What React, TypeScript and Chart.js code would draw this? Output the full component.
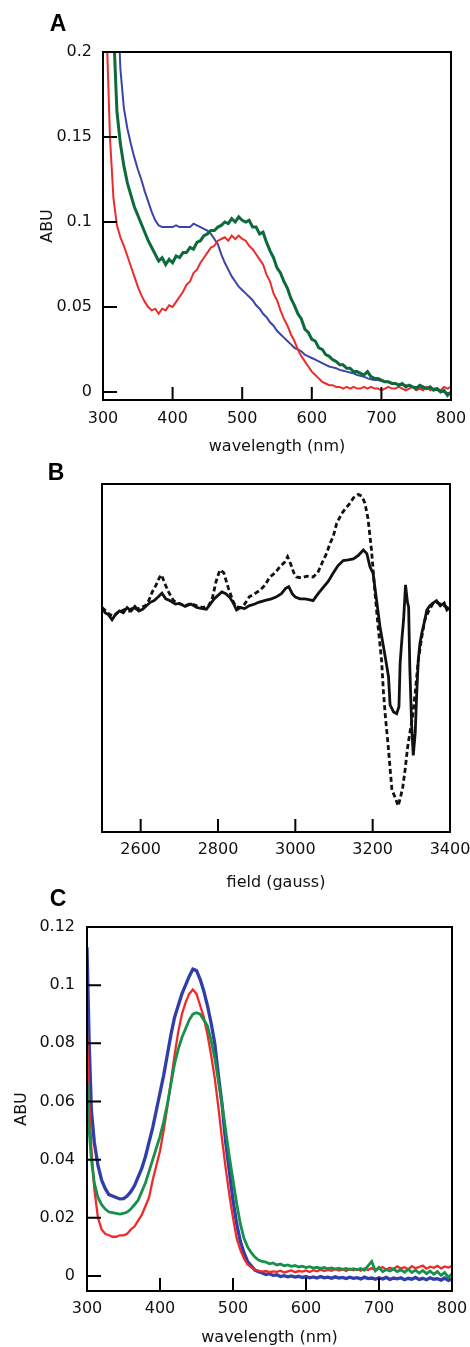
import React, { useEffect, useRef } from "react";
import { Chart, registerables } from "chart.js";

Chart.register(...registerables);

// ---------------- Panel A data ----------------
const WL_A = [
  300, 305, 310, 315, 320, 325, 330, 335, 340, 345,
  350, 355, 360, 365, 370, 375, 380, 385, 390, 395,
  400, 405, 410, 415, 420, 425, 430, 435, 440, 445,
  450, 455, 460, 465, 470, 475, 480, 485, 490, 495,
  500, 505, 510, 515, 520, 525, 530, 535, 540, 545,
  550, 555, 560, 565, 570, 575, 580, 585, 590, 595,
  600, 605, 610, 615, 620, 625, 630, 635, 640, 645,
  650, 655, 660, 665, 670, 675, 680, 685, 690, 695,
  700, 705, 710, 715, 720, 725, 730, 735, 740, 745,
  750, 755, 760, 765, 770, 775, 780, 785, 790, 795,
  800,
];
const RED_A = [
  0.300, 0.215, 0.150, 0.114, 0.098, 0.091, 0.086, 0.080, 0.074, 0.068,
  0.062, 0.057, 0.053, 0.050, 0.048, 0.049, 0.046, 0.049, 0.048, 0.051,
  0.050, 0.053, 0.056, 0.059, 0.063, 0.065, 0.070, 0.072, 0.076, 0.079,
  0.082, 0.085, 0.086, 0.089, 0.090, 0.091, 0.089, 0.092, 0.090, 0.092,
  0.090, 0.089, 0.086, 0.084, 0.081, 0.078, 0.075, 0.069, 0.065, 0.058,
  0.054, 0.048, 0.043, 0.039, 0.034, 0.030, 0.025, 0.021, 0.018, 0.015,
  0.012, 0.010, 0.008, 0.006, 0.005, 0.004, 0.004, 0.003, 0.003, 0.002,
  0.003, 0.002, 0.003, 0.002, 0.002, 0.003, 0.002, 0.003, 0.002, 0.002,
  0.001, 0.002, 0.003, 0.002, 0.002, 0.003, 0.002, 0.001, 0.002, 0.003,
  0.001, 0.002, 0.001, 0.003, 0.001, 0.002, 0.002, 0.001, 0.003, 0.002,
  0.003,
];
const BLUE_A = [
  0.400, 0.360, 0.320, 0.280, 0.240, 0.190, 0.167, 0.155, 0.146, 0.138,
  0.131, 0.125, 0.118, 0.112, 0.106, 0.101, 0.098, 0.097, 0.097, 0.097,
  0.097, 0.098, 0.097, 0.097, 0.097, 0.097, 0.099, 0.098, 0.097, 0.096,
  0.095, 0.093, 0.090, 0.087, 0.081, 0.076, 0.072, 0.068, 0.065, 0.062,
  0.060, 0.058, 0.056, 0.054, 0.051, 0.049, 0.046, 0.044, 0.041, 0.039,
  0.036, 0.034, 0.032, 0.030, 0.028, 0.026, 0.025, 0.024, 0.022, 0.021,
  0.020, 0.019, 0.018, 0.017, 0.016, 0.015, 0.0145, 0.014, 0.013, 0.0125,
  0.012, 0.0115, 0.011, 0.010, 0.0095, 0.009, 0.008, 0.0075, 0.007, 0.007,
  0.0065, 0.006, 0.006, 0.0055, 0.005, 0.0045, 0.004, 0.004, 0.0035, 0.003,
  0.003, 0.0025, 0.002, 0.002, 0.002, 0.0015, 0.001, 0.001, 0.000, -0.0005,
  -0.001,
];
const GREEN_A = [
  0.400, 0.330, 0.270, 0.215, 0.165, 0.146, 0.133, 0.123, 0.116, 0.109,
  0.104, 0.099, 0.094, 0.089, 0.085, 0.081, 0.077, 0.079, 0.075, 0.078,
  0.076, 0.080, 0.079, 0.082, 0.082, 0.085, 0.084, 0.088, 0.089, 0.092,
  0.093, 0.095, 0.095, 0.097, 0.098, 0.100, 0.099, 0.102, 0.100, 0.103,
  0.101, 0.100, 0.101, 0.097, 0.097, 0.093, 0.094, 0.088, 0.083, 0.079,
  0.073, 0.070, 0.065, 0.061, 0.055, 0.051, 0.046, 0.043, 0.037, 0.035,
  0.031, 0.030, 0.026, 0.025, 0.022, 0.021, 0.019, 0.018, 0.016, 0.016,
  0.014, 0.014, 0.012, 0.012, 0.011, 0.010, 0.012, 0.009, 0.008, 0.008,
  0.007, 0.006, 0.006, 0.005, 0.005, 0.004, 0.005, 0.003, 0.004, 0.003,
  0.002, 0.004, 0.003, 0.002, 0.003, 0.001, 0.002, 0.000, 0.001, -0.002,
  0.000,
];
const X_LABELS_A = [300, 400, 500, 600, 700, 800];
const Y_LABELS_A = [0, 0.05, 0.1, 0.15, 0.2];
const X_MARKS_A = [400, 500, 600, 700];
const Y_MARKS_A = [0, 0.05, 0.1, 0.15];

// ---------------- Panel B data ----------------
const FIELD_SOLID = [
  2500, 2508, 2516, 2526, 2535, 2545, 2555, 2565, 2575, 2585,
  2595, 2605, 2615, 2625, 2635, 2645, 2655, 2665, 2675, 2690,
  2700, 2715, 2730, 2745, 2760, 2770, 2780, 2790, 2800, 2810,
  2820, 2830, 2840, 2848, 2858, 2869, 2880, 2895, 2905, 2920,
  2938, 2950, 2964, 2975, 2983, 2992, 3000, 3012, 3024, 3035,
  3046, 3059, 3070, 3085, 3098, 3110, 3124, 3137, 3150, 3163,
  3176, 3185, 3193, 3201, 3210, 3219, 3228, 3236, 3241, 3245,
  3254, 3262, 3268, 3271, 3276, 3280, 3285, 3290, 3293, 3296,
  3301, 3305, 3310, 3314, 3318, 3322, 3327, 3335, 3340, 3348,
  3356, 3365, 3375, 3385, 3392, 3400,
];
const SOLID = [
  64.5, 63, 62.5, 61, 62.5, 63.5, 63, 64.5, 63.5, 64.8,
  63.5, 64, 65, 66, 66.5, 67.5, 68.6, 67, 66.5, 65.5,
  65.7, 64.8, 65.5, 64.5, 64.2, 64, 65.5, 67, 68, 69,
  68.5, 67.5, 65.7, 63.8, 64.5, 64.2, 65, 65.5, 66, 66.5,
  67, 67.5, 68.5, 70, 70.5, 68.5, 67.5, 67, 67, 66.8,
  66.5, 68.5, 70, 72, 74.4, 76.5, 78, 78.2, 78.5, 79.5,
  81, 80, 76.2, 74.4, 66.7, 59, 53.2, 48, 44.6, 36.5,
  34.5, 34, 36, 48.5, 56, 61, 71, 66, 64.7, 47.5,
  30.2, 22, 28.4, 40, 49.4, 54, 57.1, 61, 63.8, 65,
  65.8, 66.5, 65, 65.8, 63.8, 64.5,
];
const FIELD_DASHED = [
  2500, 2510, 2520, 2530, 2540, 2550, 2560, 2570, 2580, 2590,
  2600, 2612, 2621, 2630, 2640, 2648, 2654, 2662, 2672, 2685,
  2698, 2715, 2730, 2745, 2760, 2775, 2784, 2795, 2805, 2815,
  2827, 2840, 2848, 2860, 2869, 2881, 2895, 2909, 2922, 2934,
  2948, 2960, 2972, 2980, 2988, 2996, 3003, 3015, 3030, 3046,
  3058, 3070, 3081, 3090, 3098, 3107, 3120, 3130, 3141, 3150,
  3163, 3172, 3180, 3188, 3197, 3205, 3214, 3223, 3228, 3233,
  3240, 3246, 3250, 3258, 3266, 3272, 3278, 3284, 3290, 3296,
  3303, 3310, 3318, 3327, 3335, 3345, 3355, 3365, 3375, 3385,
  3400,
];
const DASHED = [
  64.5, 63.5, 62.5, 62, 63, 63.5, 64, 63.5, 64.5, 64,
  64.5, 65, 66.5, 69, 71, 73, 73.9, 71.5, 69, 66.5,
  65.7, 65, 65.7, 65, 64.5, 65, 66.5, 72, 75.3, 74.5,
  70, 66, 64.7, 64.5, 65.5, 67.6, 68.5, 69.5, 71, 73.3,
  74.5, 76.2, 77.5, 79.1, 77, 74.5, 73.3, 73, 73.5, 73.3,
  74.5, 77.5, 80.1, 83, 84.9, 88.7, 91.5, 93, 94.4, 96,
  97, 96.5, 94.5, 90, 81, 70, 59, 49.4, 40, 33,
  25, 17, 12, 10, 7.5, 10, 13, 18, 24, 28.4,
  33, 40, 49.4, 56, 61, 63.5, 65.5, 66, 65.5, 65,
  64,
];
const X_LABELS_B = [2600, 2800, 3000, 3200, 3400];
const X_MARKS_B = [2600, 2800, 3000, 3200];

// ---------------- Panel C data ----------------
const WL_C = [
  300, 303, 306,
  310, 315, 320, 325, 330, 335, 340, 345, 350, 355,
  360, 365, 370, 375, 380, 385, 390, 395, 400, 405,
  410, 415, 420, 425, 430, 435, 440, 445, 450, 455,
  460, 465, 470, 475, 480, 485, 490, 495, 500, 505,
  510, 515, 520, 525, 530, 535, 540, 545, 550, 555,
  560, 565, 570, 575, 580, 585, 590, 595, 600, 605,
  610, 615, 620, 625, 630, 635, 640, 645, 650, 655,
  660, 665, 670, 675, 680, 685, 690, 695, 700, 705,
  710, 715, 720, 725, 730, 735, 740, 745, 750, 755,
  760, 765, 770, 775, 780, 785, 790, 795, 800,
];
const BLUE_C = [
  0.113, 0.080, 0.057,
  0.046, 0.038, 0.033, 0.030, 0.028, 0.0275, 0.027, 0.0265, 0.0266, 0.0275,
  0.029, 0.031, 0.034, 0.037, 0.041, 0.046, 0.051, 0.057, 0.063, 0.069,
  0.076, 0.083, 0.089, 0.093, 0.097, 0.100, 0.103, 0.1055, 0.105, 0.102,
  0.098, 0.093, 0.087, 0.080, 0.069, 0.059, 0.046, 0.036, 0.026, 0.018,
  0.012, 0.008, 0.005, 0.0035, 0.002, 0.0015, 0.001, 0.0005, 0.0008, 0.0002,
  0.0004, -0.0002, 0.0001, -0.0003, 0.0, -0.0004, -0.0001, -0.0005, -0.0002, -0.0006,
  -0.0003, -0.0007, -0.0002, -0.0006, -0.0004, -0.0008, -0.0003, -0.0007, -0.0005, -0.0009,
  -0.0004, -0.0008, -0.0006, -0.0010, -0.0004, -0.0009, -0.0007, -0.0011, -0.0006, -0.0010,
  -0.0005, -0.0012, -0.0007, -0.0010, -0.0006, -0.0013, -0.0008, -0.0011, -0.0005, -0.0012,
  -0.0008, -0.0013, -0.0006, -0.0011, -0.0009, -0.0014, -0.0007, -0.0015, -0.0010,
];
const RED_C = [
  0.084, 0.060, 0.044,
  0.030, 0.020, 0.016, 0.0145, 0.014, 0.0135, 0.0135, 0.014, 0.014, 0.0145,
  0.016, 0.017, 0.019, 0.021, 0.024, 0.027, 0.033, 0.038, 0.043, 0.050,
  0.058, 0.067, 0.076, 0.084, 0.090, 0.094, 0.097, 0.0985, 0.097, 0.093,
  0.089, 0.083, 0.076, 0.068, 0.058, 0.047, 0.037, 0.028, 0.020, 0.013,
  0.009, 0.006, 0.004, 0.003, 0.0022, 0.0018, 0.0015, 0.0017, 0.0013, 0.0016,
  0.0014, 0.0018, 0.0012, 0.0016, 0.0019, 0.0013, 0.0017, 0.0015, 0.0019, 0.0014,
  0.0020, 0.0016, 0.0022, 0.0017, 0.0021, 0.0018, 0.0024, 0.0019, 0.0023, 0.0017,
  0.0025, 0.0020, 0.0024, 0.0018, 0.0026, 0.0021, 0.0027, 0.0020, 0.0025, 0.0031,
  0.0022, 0.0028, 0.0024, 0.0033, 0.0026, 0.0030, 0.0023, 0.0034, 0.0027, 0.0031,
  0.0036, 0.0025, 0.0032, 0.0028, 0.0035, 0.0026, 0.0033, 0.0029, 0.0034,
];
const GREEN_C = [
  0.067, 0.050, 0.040,
  0.032, 0.027, 0.0245, 0.023, 0.022, 0.0218, 0.0215, 0.0213, 0.0215, 0.022,
  0.023, 0.0245, 0.026, 0.029, 0.032, 0.036, 0.040, 0.044, 0.048, 0.053,
  0.059, 0.066, 0.073, 0.078, 0.082, 0.085, 0.088, 0.090, 0.0905, 0.090,
  0.088, 0.086, 0.081, 0.075, 0.067, 0.059, 0.050, 0.041, 0.033, 0.025,
  0.018, 0.013, 0.010, 0.008, 0.0065, 0.0055, 0.005, 0.0048, 0.0042, 0.0045,
  0.0038, 0.0041, 0.0035, 0.0038, 0.0033, 0.0036, 0.0031, 0.0034, 0.0029, 0.0032,
  0.0027, 0.0030, 0.0026, 0.0029, 0.0025, 0.0028, 0.0024, 0.0027, 0.0023, 0.0026,
  0.0022, 0.0025, 0.0021, 0.0026, 0.0020, 0.0035, 0.0050, 0.0018, 0.0030, 0.0015,
  0.0022, 0.0017, 0.0024, 0.0015, 0.0021, 0.0013, 0.0023, 0.0012, 0.0020, 0.0010,
  0.0019, 0.0008, 0.0017, 0.0006, 0.0015, 0.0002, 0.0012, -0.0005, 0.0008,
];
const X_LABELS_C = [300, 400, 500, 600, 700, 800];
const Y_LABELS_C = [0, 0.02, 0.04, 0.06, 0.08, 0.1, 0.12];
const X_MARKS_C = [400, 500, 600, 700];
const Y_MARKS_C = [0, 0.02, 0.04, 0.06, 0.08, 0.1];

// ---------------- helpers ----------------
const FONT = { family: "'DejaVu Sans', sans-serif", size: 16 };
const TEXT_COLOR = "#111";

const pts = (xs: number[], ys: number[]) => xs.map((x, i) => ({ x, y: ys[i] }));

function framePlugin(letter: string, lx: number, ly: number, xMarks: number[], yMarks: number[]) {
  return {
    id: "frame" + letter,
    afterDatasetsDraw(chart: any) {
      const { ctx, chartArea } = chart;
      const { left, top, right, bottom } = chartArea;
      ctx.save();
      ctx.strokeStyle = "#000";
      ctx.lineWidth = 2;
      ctx.setLineDash([]);
      ctx.strokeRect(left, top, right - left, bottom - top);
      ctx.beginPath();
      for (const v of xMarks) {
        const x = chart.scales.x.getPixelForValue(v);
        ctx.moveTo(x, bottom);
        ctx.lineTo(x, bottom - 13);
      }
      for (const v of yMarks) {
        const y = chart.scales.y.getPixelForValue(v);
        ctx.moveTo(left, y);
        ctx.lineTo(left + 14, y);
      }
      ctx.stroke();
      ctx.fillStyle = "#000";
      ctx.font = "bold 23px 'Liberation Sans', Arial, sans-serif";
      ctx.textAlign = "center";
      ctx.textBaseline = "middle";
      ctx.fillText(letter, lx, ly);
      ctx.restore();
    },
  };
}

function xScale(min: number, max: number, labels: number[], height: number, tickPad: number, title: string, titlePad: number) {
  return {
    type: "linear",
    min,
    max,
    afterBuildTicks: (s: any) => {
      s.ticks = labels.map((v) => ({ value: v }));
    },
    afterFit: (s: any) => {
      s.height = height;
      s.paddingLeft = 0;
      s.paddingRight = 0;
    },
    grid: { display: false, drawTicks: false },
    border: { display: false },
    ticks: {
      color: TEXT_COLOR,
      font: FONT,
      padding: tickPad,
      maxRotation: 0,
      autoSkip: false,
      callback: (v: any) => String(v),
    },
    title: { display: true, text: title, color: TEXT_COLOR, font: FONT, padding: { top: 0, bottom: titlePad } },
  };
}

function yScale(min: number, max: number, labels: number[], width: number, tickPad: number, title: string, titlePad: number) {
  return {
    type: "linear",
    min,
    max,
    afterBuildTicks: (s: any) => {
      s.ticks = labels.map((v) => ({ value: v }));
    },
    afterFit: (s: any) => {
      s.width = width;
      s.paddingTop = 0;
      s.paddingBottom = 0;
    },
    grid: { display: false, drawTicks: false },
    border: { display: false },
    ticks: {
      color: TEXT_COLOR,
      font: FONT,
      padding: tickPad,
      autoSkip: false,
      callback: (v: any) => String(v),
    },
    title: { display: true, text: title, color: TEXT_COLOR, font: FONT, padding: { top: titlePad, bottom: 0 } },
  };
}

const baseOptions = (padding: any) => ({
  animation: false,
  responsive: false,
  devicePixelRatio: 1,
  layout: { padding },
  plugins: { legend: { display: false }, tooltip: { enabled: false } },
  elements: { point: { radius: 0 }, line: { tension: 0 } },
});

function configA(): any {
  return {
    type: "line",
    data: {
      datasets: [
        { data: pts(WL_A, GREEN_A), borderColor: "#0d6b3b", borderWidth: 3 },
        { data: pts(WL_A, RED_A), borderColor: "#ee2b2b", borderWidth: 2 },
        { data: pts(WL_A, BLUE_A), borderColor: "#3a45a5", borderWidth: 2 },
      ],
    },
    options: {
      ...baseOptions({ top: 52, right: 19, bottom: 0, left: 0 }),
      scales: {
        x: xScale(300, 800, X_LABELS_A, 60, 9.4, "wavelength (nm)", 3.4),
        y: yScale(-0.0047, 0.2, Y_LABELS_A, 103, 11, "ABU", 38.4),
      },
    },
    plugins: [framePlugin("A", 58, 25, X_MARKS_A, Y_MARKS_A)],
  };
}

function configB(): any {
  return {
    type: "line",
    data: {
      datasets: [
        { data: pts(FIELD_SOLID, SOLID), borderColor: "#111", borderWidth: 2.8 },
        { data: pts(FIELD_DASHED, DASHED), borderColor: "#111", borderWidth: 2.8, borderDash: [5, 3] },
      ],
    },
    options: {
      ...baseOptions({ top: 24, right: 20, bottom: 0, left: 102 }),
      scales: {
        x: xScale(2500, 3400, X_LABELS_B, 60, 8.4, "field (gauss)", 0),
        y: { type: "linear", min: 0, max: 100, display: false },
      },
    },
    plugins: [framePlugin("B", 56, 14, X_MARKS_B, [])],
  };
}

function configC(): any {
  return {
    type: "line",
    data: {
      datasets: [
        { data: pts(WL_C, GREEN_C), borderColor: "#17914a", borderWidth: 2.8 },
        { data: pts(WL_C, RED_C), borderColor: "#f02a2a", borderWidth: 2.3 },
        { data: pts(WL_C, BLUE_C), borderColor: "#2f3ea8", borderWidth: 3.3 },
      ],
    },
    options: {
      ...baseOptions({ top: 45, right: 18, bottom: 0, left: 0 }),
      scales: {
        x: xScale(300, 800, X_LABELS_C, 56, 8.4, "wavelength (nm)", 0),
        y: yScale(-0.00516, 0.12, Y_LABELS_C, 87, 12, "ABU", 12.4),
      },
    },
    plugins: [framePlugin("C", 58, 18, X_MARKS_C, Y_MARKS_C)],
  };
}

function Panel({ top, height, build }: { top: number; height: number; build: () => any }) {
  const ref = useRef<HTMLCanvasElement | null>(null);
  useEffect(() => {
    if (!ref.current) return;
    const chart = new Chart(ref.current, build());
    return () => chart.destroy();
  }, []);
  return (
    <canvas
      ref={ref}
      width={470}
      height={height}
      style={{ position: "absolute", left: 0, top, width: 470, height, display: "block" }}
    />
  );
}

export default function App() {
  return (
    <div style={{ position: "absolute", left: 0, top: 0, width: 470, height: 1347, background: "#fff", overflow: "hidden" }}>
      <Panel top={0} height={460} build={configA} />
      <Panel top={460} height={432} build={configB} />
      <Panel top={882} height={465} build={configC} />
    </div>
  );
}
